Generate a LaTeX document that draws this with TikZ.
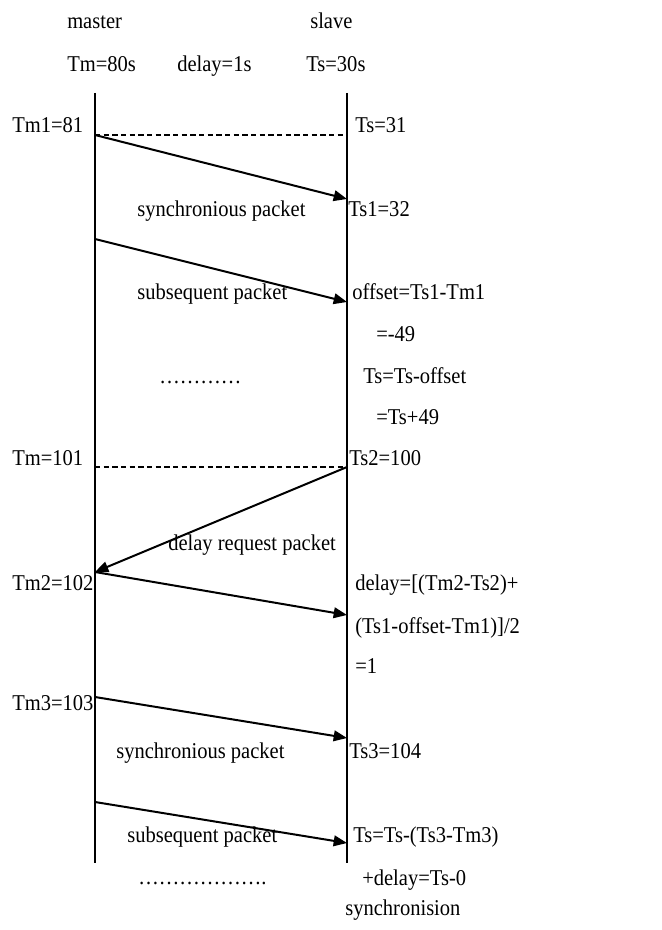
\documentclass[tikz,border=0pt]{standalone}
\usepackage{fontspec}
\setmainfont{Liberation Serif}
\usepackage{tikz}
\usetikzlibrary{
  arrows.meta,
  calc
}
\tikzset{
  every label text/.style={anchor=base west,inner sep=0pt,font=\fontsize{15.4}{18}\selectfont},
  every lifeline/.style={draw,line width=0.8pt},
  every packet/.style={draw,line width=1.5pt,-{Triangle[length=10pt,width=8pt]}},
  every sync line/.style={draw,line width=0.8pt,dash pattern=on 4pt off 2.5pt},
}
\colorlet{ink}{black}
\newcommand{\tall}[1]{\scalebox{1}[1.1]{#1}}

\begin{document}
\begin{tikzpicture}[x=0.75pt,y=-0.75pt]
\useasboundingbox (0,0) rectangle (661,930);
% lifelines
\coordinate (mtop) at (95,93);
\coordinate (mbot) at (95,863);
\coordinate (stop) at (347,93);
\coordinate (sbot) at (347,863);
\path[every lifeline,ink] (mtop) -- (mbot);
\path[every lifeline,ink] (stop) -- (sbot);
% points on the lines
\foreach \nm/\yy in {m1/135, m2/239, m3/467, m4/572, m5/697, m6/802}
{
  \coordinate (\nm) at (95,\yy);
}
\foreach \nm/\yy in {s0/135, s1/199, s2/302, s3/467, s4/571, s5/615, s6/738, s7/843}
{
  \coordinate (\nm) at (347,\yy);
}
\path[every sync line,ink] (m1) -- (s0);
\path[every sync line,ink] (m3) -- (s3);
\foreach \from/\to in {m1/s1, m2/s2, s3/m4, m4/s5, m5/s6, m6/s7}
{
  \path[every packet,ink] (\from) -- (\to);
}
% texts
\foreach \nm/\xx/\yy/\txt in {
  master/67/29/master, slave/310/29/slave,
  tm0/67/72/Tm=80s, delay0/177/72/delay=1s, ts0/306/72/Ts=30s,
  tm1/12/133/Tm1=81, ts/355/133/Ts=31,
  syncA/137/217/synchronious packet, ts1/348/217/Ts1=32,
  subA/137/300/subsequent packet, offA/352/300/offset=Ts1-Tm1,
  offB/376/341/=-49,
  dotsA/159/383/…………, tsA/363/383/Ts=Ts-offset,
  tsB/376/424/=Ts+49,
  tm/12/465/Tm=101, ts2/349/465/Ts2=100,
  req/168/550/delay request packet,
  tm2/12/590/Tm2=102, delA/355/590/{delay=[(Tm2-Ts2)+},
  delB/355/633/{(Ts1-offset-Tm1)]/2},
  delC/355/673/=1,
  tm3/12/710/Tm3=103,
  syncB/116/758/synchronious packet, ts3/349/758/Ts3=104,
  subB/127/842/subsequent packet, tsC/353/842/Ts=Ts-(Ts3-Tm3),
  dotsB/138/884/………………., tsD/362/885/+delay=Ts-0,
  done/345/915/synchronision}
{
  \node[every label text] (\nm) at (\xx,\yy) {\tall{\txt}};
}
\end{tikzpicture}
\end{document}
